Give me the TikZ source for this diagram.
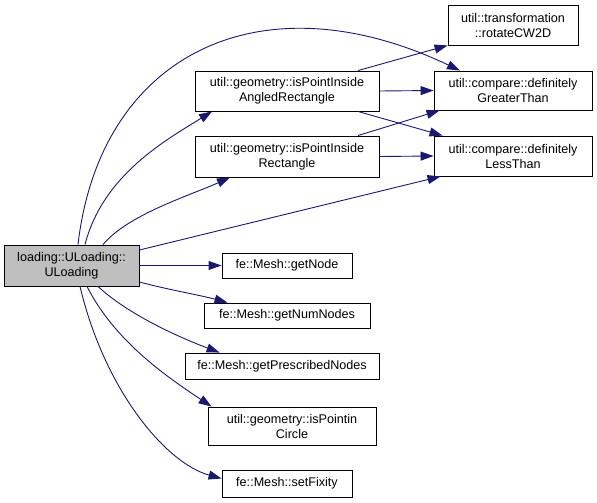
\documentclass[tikz,border=0pt]{standalone}
\usepackage{fontspec}
\setmainfont{Liberation Sans}
\usetikzlibrary{arrows.meta}
\definecolor{cNavy}{HTML}{191970}
\definecolor{cFill}{HTML}{BFBFBF}

\begin{document}
\begin{tikzpicture}[x=1pt,y=-1pt,
  font=\fontsize{12.6}{15}\selectfont,
  fn/.style={draw=black,line width=0.9pt,rectangle,align=center,
             inner sep=0pt,minimum height=25pt},
  ar/.style={line width=0.9pt,cNavy,-{Triangle[length=13pt,width=9pt]}}]
\useasboundingbox (0,0) rectangle (597,503);
\node[fn,fill=cFill,minimum width=135pt,minimum height=41pt] (main) at (71.5,265.5)
  {loading::ULoading::\\ULoading};
\node[fn,minimum width=184pt,minimum height=40pt] (angled) at (287,91)
  {util::geometry::isPointInside\\AngledRectangle};
\node[fn,minimum width=184pt,minimum height=41pt] (rect) at (287,156.5)
  {util::geometry::isPointInside\\Rectangle};
\node[fn,minimum width=130pt,minimum height=40pt] (rotate) at (513,25)
  {util::transformation\\::rotateCW2D};
\node[fn,minimum width=158pt,minimum height=39pt] (greater) at (513,90.5)
  {util::compare::definitely\\GreaterThan};
\node[fn,minimum width=158pt,minimum height=40pt] (less) at (513,156)
  {util::compare::definitely\\LessThan};
\node[fn,minimum width=130pt] (getnode) at (287,265.5) {fe::Mesh::getNode};
\node[fn,minimum width=166pt] (numnodes) at (287,315.5) {fe::Mesh::getNumNodes};
\node[fn,minimum width=194pt,minimum height=26pt] (prescribed) at (282,366)
  {fe::Mesh::getPrescribedNodes};
\node[fn,minimum width=168pt,minimum height=38pt] (circle) at (292,426)
  {util::geometry::isPointin\\Circle};
\node[fn,minimum width=130pt,minimum height=27pt] (fixity) at (287,483.5)
  {fe::Mesh::setFixity};
% calls from the constructor
\draw[ar] ([xshift=6.5]main.north) .. controls +(22,-190) and +(-200,-95)
  .. ([xshift=-53]greater.north);
\draw[ar] ([xshift=13.5]main.north) .. controls +(18,-70) and +(-45,28)
  .. ([xshift=-75]angled.south);
\draw[ar] ([xshift=31.5]main.north) .. controls +(25,-30) and +(-40,18)
  .. ([xshift=-57]rect.south);
\draw[ar] ([yshift=15.5]main.east) -- ([xshift=7]less.south west);
\draw[ar] (main.east) -- (getnode.west);
\draw[ar] ([yshift=-16.5]main.east) .. controls +(30,8) and +(-30,-8)
  .. ([xshift=24]numnodes.north west);
\draw[ar] ([xshift=26.5]main.south) .. controls +(30,28) and +(-40,-15)
  .. ([xshift=35]prescribed.north west);
\draw[ar] ([xshift=15.5]main.south) .. controls +(28,55) and +(-45,-30)
  .. ([xshift=4]circle.north west);
\draw[ar] ([xshift=8.5]main.south) .. controls +(25,105) and +(-55,-15)
  .. ([yshift=5]fixity.west);
% calls between the helpers
\draw[ar] ([xshift=71]angled.north) -- (rotate.south west);
\draw[ar] (angled.east) -- (greater.west);
\draw[ar] ([xshift=71]angled.south) -- ([xshift=9]less.north west);
\draw[ar] ([xshift=71]rect.north) -- ([xshift=6]greater.south west);
\draw[ar] (rect.east) -- (less.west);
\end{tikzpicture}
\end{document}
